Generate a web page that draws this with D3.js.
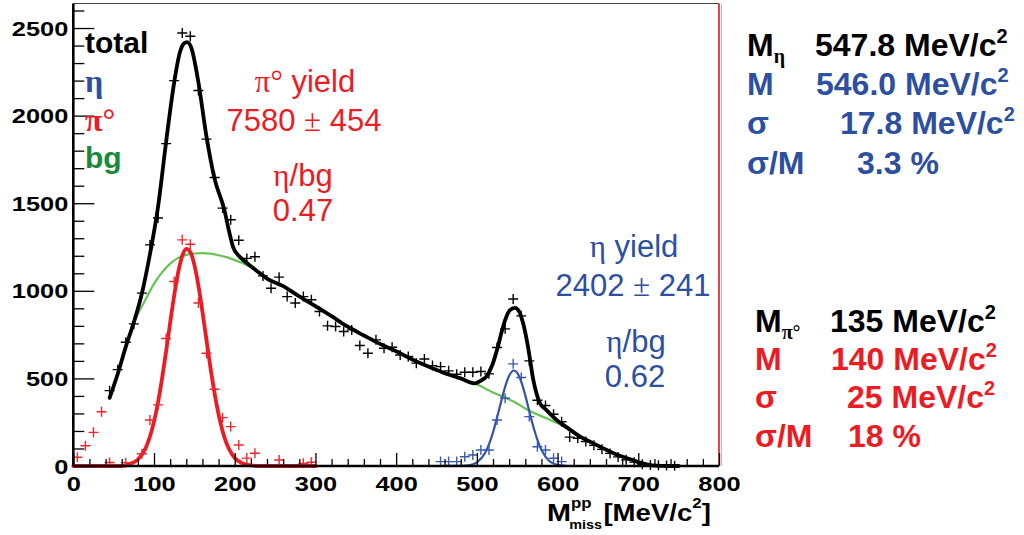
<!DOCTYPE html>
<html><head><meta charset="utf-8">
<script src="https://cdn.jsdelivr.net/npm/d3@7"></script>
<style>
body{margin:0;background:#fff;}
svg{display:block;font-family:"Liberation Sans",Arial,sans-serif;}
</style>
</head><body>
<svg id="c" width="1024" height="535"></svg>
<script>
// ---------- data ----------
// measured spectrum (black crosses): bin centre [MeV/c^2], counts
const dataX = [45,55,65,75,85,95,105,115,125,135,145,155,165,175,185,195,205,215,225,235,
  245,255,265,275,285,295,305,315,325,335,345,355,365,375,385,395,405,415,425,435,
  445,455,465,475,485,495,505,515,525,535,545,555,565,575,585,595,605,615,625,635,
  645,655,665,675,685,695,705,715,725,735,745];
const dataY = [430,550,706,811,987,1262,1416,1840,2200,2472,2453,2143,1866,1647,1472,1406,1289,1185,1194,1085,
  1015,1078,967,930,967,949,882,800,796,768,777,688,644,720,672,678,634,625,587,611,
  573,567,543,524,535,535,539,526,676,783,953,857,600,375,345,295,253,165,158,140,
  118,95,72,52,35,22,10,5,4,3,2];
// pi0 after background subtraction (red crosses)
const pi0X = [5,15,25,35,45,65,85,95,105,115,125,135,145,155,165,175,185,195,205,215,225,255,285,295];
const pi0Y = [50,116,192,310,20,19,70,263,349,728,1053,1291,1266,930,644,438,276,225,120,45,73,34,15,21];
// eta after background subtraction (blue crosses)
const etaX = [455,465,475,485,495,505,515,525,535,545,555,565,575,585,595,605];
const etaY = [25,25,25,53,63,91,91,263,387,583,505,282,110,91,44,25];
// fit curves
const totalFitX = [45,55,65,75,85,95,105,115,125,132,137,141,146,155,165,175,187,193,198,205,212,220,230,240,
  260,280,300,320,340,360,380,400,420,440,460,480,497,505,512,519,526,531,535,541,547,552,557,563,570,578,586,599,
  610,628,645,661,677,693,702,712,722,735,750];
const totalFitY = [389,525,680,820,985,1210,1480,1850,2190,2360,2412,2420,2390,2190,1880,1640,1465,1340,1250,1200,1170,1140,1105,1070,
  1027,968,912,855,795,745,697,655,608,568,530,500,472,488,512,575,680,770,833,890,903,885,820,690,490,360,320,262,
  225,168,128,91,58,34,19,8,2,0,0];
const bgFitX = [72,80,90,100,110,120,130,140,150,160,170,180,190,200,210,220,230,240,
  260,280,300,320,340,360,380,400,420,440,460,480,497,520,546,565,585,600,615];
const bgFitY = [790,868,955,1040,1105,1155,1188,1205,1213,1215,1212,1203,1192,1175,1158,1135,1103,1070,
  1027,968,912,855,795,745,697,655,608,568,530,500,472,420,367,315,275,244,212];
const pi0FitX = [0,60,70,80,90,100,105,110,115,120,125,130,135,140,145,150,155,160,165,170,175,180,185,190,195,200,210,220,230,300];
const pi0FitY = [0,0,11,37,106,253,364,500,655,817,973,1106,1199,1239,1221,1148,1030,881,720,560,416,295,199,128,79,46,14,3,0,0];
const etaFitX = [450,480,490,500,510,515,520,525,530,535,540,546,550,555,560,565,570,575,580,590,600,610,620,660];
const etaFitY = [0,1,4,21,73,123,192,276,367,452,515,545,532,481,403,312,224,149,92,27,6,1,0,0];
// axes
const xTicks = [0,100,200,300,400,500,600,700,800];
const xMinor = [20,40,60,80,120,140,160,180,220,240,260,280,320,340,360,380,420,440,460,480,520,540,560,580,620,640,660,680,720,740,760,780];
const yTicks = [0,500,1000,1500,2000,2500];
const yMinor = [100,200,300,400,600,700,800,900,1100,1200,1300,1400,1600,1700,1800,1900,2100,2200,2300,2400,2600];
// text
const legendItems = [
  {t:"total", c:"#000000", serif:false},
  {t:"η", c:"#2d4fa0", serif:true},
  {t:"π°", c:"#ec1c24", serif:true},
  {t:"bg", c:"#1a8a3a", serif:false}
];
const etaBlock = [
  {lab:"M", sub:"η", val:"547.8 MeV/c", sup:"2", c:"#000000"},
  {lab:"M", sub:"", val:"546.0 MeV/c", sup:"2", c:"#2d4fa0"},
  {lab:"σ", sub:"", val:"17.8 MeV/c", sup:"2", c:"#2d4fa0"},
  {lab:"σ/M", sub:"", val:"3.3 %", sup:"", c:"#2d4fa0"}
];
const pi0Block = [
  {lab:"M", sub:"π°", val:"135 MeV/c", sup:"2", c:"#000000"},
  {lab:"M", sub:"", val:"140 MeV/c", sup:"2", c:"#ec1c24"},
  {lab:"σ", sub:"", val:"25 MeV/c", sup:"2", c:"#ec1c24"},
  {lab:"σ/M", sub:"", val:"18 %", sup:"", c:"#ec1c24"}
];

// ---------- drawing ----------
const svg = d3.select("#c");
const X0 = 73.3, X1 = 719, Y0 = 466, Y1 = 3.5;
const x = d3.scaleLinear().domain([0,800]).range([X0,X1]);
const y = d3.scaleLinear().domain([0,2640]).range([Y0,Y1]);

const RED = "#ec1c24", BLUE = "#3453a6";

// frame
svg.append("line").attr("x1",X0).attr("x2",X1).attr("y1",Y1).attr("y2",Y1).attr("stroke","#444").attr("stroke-width",1.2);
svg.append("line").attr("x1",721.5).attr("x2",721.5).attr("y1",Y1).attr("y2",Y0).attr("stroke","#bbb").attr("stroke-width",1);
svg.append("line").attr("x1",X1).attr("x2",X1).attr("y1",Y1).attr("y2",Y0).attr("stroke","#e8141c").attr("stroke-width",1.6);

// curves
function curve(xs, ys, col, w){
  const pts = xs.map((v,i)=>[v, ys[i]]);
  svg.append("path").datum(pts)
    .attr("d", d3.line().x(d=>x(d[0])).y(d=>y(d[1])).curve(d3.curveMonotoneX))
    .attr("fill","none").attr("stroke",col).attr("stroke-width",w)
    .attr("stroke-linejoin","round").attr("stroke-linecap","round");
}
function crosses(xs, ys, col, h, w){
  svg.append("g").selectAll("path").data(xs.map((v,i)=>[v,ys[i]])).join("path")
    .attr("d", d=>`M${x(d[0])-h},${y(d[1])}h${2*h}M${x(d[0])},${y(d[1])-h}v${2*h}`)
    .attr("stroke",col).attr("stroke-width",w).attr("fill","none");
}
curve(bgFitX, bgFitY, "#66c455", 2.2);
curve(pi0FitX, pi0FitY, RED, 3.8);
curve(etaFitX, etaFitY, BLUE, 2.2);
curve(totalFitX, totalFitY, "#000", 3.8);
crosses(pi0X, pi0Y, "#f0262e", 5, 1.4);
crosses(etaX, etaY, "#3a5bb2", 5, 1.4);
crosses(dataX, dataY, "#000", 5, 1.4);

// axes
const TICKFONT = 20, SX = 1.27;
const yAx = svg.append("g").attr("transform",`translate(${X0},0)`)
  .call(d3.axisLeft(y).tickValues(yTicks).tickSize(-21).tickPadding(5).tickFormat(d3.format("d")));
svg.append("g").attr("transform",`translate(${X0},0)`)
  .call(d3.axisLeft(y).tickValues(yMinor).tickSize(-11).tickFormat(""))
  .call(g=>g.select(".domain").remove());
const xAx = svg.append("g").attr("transform",`translate(0,${Y0})`)
  .call(d3.axisBottom(x).tickValues(xTicks).tickSize(-13).tickPadding(4).tickFormat(d3.format("d")));
svg.append("g").attr("transform",`translate(0,${Y0})`)
  .call(d3.axisBottom(x).tickValues(xMinor).tickSize(-7).tickFormat(""))
  .call(g=>g.select(".domain").remove());
svg.selectAll(".tick line").attr("stroke","#000").attr("stroke-width",1.3);
yAx.select(".domain").attr("stroke","#000").attr("stroke-width",2.6).attr("d",`M0,${Y0}V${Y1}`);
xAx.select(".domain").attr("stroke","#000").attr("stroke-width",2.6).attr("d",`M${X0},0H${X1}`);
yAx.selectAll(".tick text").attr("x",null).attr("dy",null)
  .attr("transform",`translate(-5,7) scale(${SX},1)`)
  .attr("font-size",TICKFONT).attr("font-weight","bold").attr("font-family","Liberation Sans, Arial").attr("fill","#000");
xAx.selectAll(".tick text").attr("y",null).attr("dy",null)
  .attr("transform",`translate(0,25) scale(${SX},1)`)
  .attr("font-size",TICKFONT).attr("font-weight","bold").attr("font-family","Liberation Sans, Arial").attr("fill","#000");

// axis title
const tt = svg.append("g").attr("transform","translate(547,521) scale(1.2,1)")
  .attr("font-weight","bold").attr("fill","#000");
tt.append("text").attr("x",0).attr("y",0).attr("font-size",24).text("M");
tt.append("text").attr("x",20).attr("y",-13).attr("font-size",14).text("pp");
tt.append("text").attr("x",18.5).attr("y",8).attr("font-size",12).text("miss");
tt.append("text").attr("x",47).attr("y",0).attr("font-size",23).text("[MeV/c");
tt.append("text").attr("x",121).attr("y",-13).attr("font-size",14).text("2");
tt.append("text").attr("x",129).attr("y",0).attr("font-size",23).text("]");

// legend
const lg = svg.append("g");
const lgY = [53,92,131,168];
legendItems.forEach((d,i)=>{
  lg.append("text").attr("x",85).attr("y",lgY[i]).attr("font-size",d.serif?32:30).attr("font-weight","bold")
    .attr("font-family", d.serif ? "Liberation Serif, serif" : "Liberation Sans, Arial")
    .attr("fill",d.c).text(d.t);
});

// annotations
function ann(cx, by, parts, col){
  const t = svg.append("text").attr("x",cx).attr("y",by).attr("text-anchor","middle")
    .attr("font-size",31).attr("fill",col);
  parts.forEach(p=>{ t.append("tspan").attr("font-family", p[1] ? "Liberation Serif, serif" : "Liberation Sans, Arial").text(p[0]); });
}
ann(305, 92, [["π°",1],[" yield",0]], RED);
ann(304, 131, [["7580 ",0],["±",1],[" 454",0]], RED);
ann(303, 186, [["η",1],["/bg",0]], RED);
ann(303, 221, [["0.47",0]], RED);
ann(634, 257, [["η",1],[" yield",0]], "#2d4fa0");
ann(633, 296, [["2402 ",0],["±",1],[" 241",0]], "#2d4fa0");
ann(636, 352, [["η",1],["/bg",0]], "#2d4fa0");
ann(635, 387, [["0.62",0]], "#2d4fa0");

// parameter blocks
function block(rows, labX, valXs, baseYs){
  rows.forEach((r,i)=>{
    const lt = svg.append("text").attr("x",labX).attr("y",baseYs[i]).attr("font-size",32).attr("font-weight","bold").attr("fill",r.c);
    lt.append("tspan").text(r.lab);
    if(r.sub) lt.append("tspan").attr("dy",7).attr("font-size",20).attr("font-family","Liberation Serif, serif").text(r.sub);
    const vt = svg.append("text").attr("x",valXs[i]).attr("y",baseYs[i]).attr("font-size",32).attr("font-weight","bold").attr("fill",r.c);
    vt.append("tspan").text(r.val);
    if(r.sup) vt.append("tspan").attr("dy",-13).attr("font-size",20).text(r.sup);
  });
}
block(etaBlock, 747, [815,816,840,857], [56,95,134,174]);
block(pi0Block, 755, [830,831,847,848], [332,370,408,447]);
</script>
</body></html>
